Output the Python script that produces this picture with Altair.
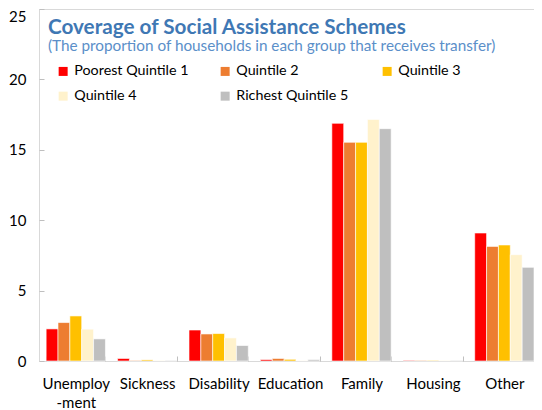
import altair as alt
import pandas as pd

categories = ["Unemployment", "Sickness", "Disability", "Education", "Family", "Housing", "Other"]
series = ["Poorest Quintile 1", "Quintile 2", "Quintile 3", "Quintile 4", "Richest Quintile 5"]
colors = ["#FF0000", "#ED7D31", "#FFC000", "#FFF2CC", "#BFBFBF"]

q1 = [2.28, 0.18, 2.20, 0.10, 16.88, 0.04, 9.09]
q2 = [2.73, 0.04, 1.92, 0.18, 15.53, 0.04, 8.14]
q3 = [3.20, 0.08, 1.95, 0.12, 15.53, 0.04, 8.24]
q4 = [2.26, 0.04, 1.64, 0.03, 17.16, 0.04, 7.55]
q5 = [1.57, 0.04, 1.10, 0.10, 16.50, 0.04, 6.65]

y_ticks = [0, 5, 10, 15, 20, 25]

rows = []
for s, vals in zip(series, [q1, q2, q3, q4, q5]):
    for c, v in zip(categories, vals):
        rows.append({"category": c, "series": s, "value": v})
df = pd.DataFrame(rows)

FONT = "Lato"

bars = alt.Chart(df).mark_bar(stroke="white", strokeWidth=0.6).encode(
    x=alt.X(
        "category:N",
        sort=categories,
        scale=alt.Scale(paddingInner=0.17, paddingOuter=0.05, align=1),
        axis=alt.Axis(
            title=None,
            labelAngle=0,
            tickBand="extent",
            domain=False,
            offset=-5,
            tickSize=5,
            tickColor="#BFBFBF",
            labelPadding=15,
            labelFontSize=15,
            labelColor="#000000",
            labelFont=FONT,
            labelLineHeight=19,
            labelExpr="datum.value == 'Unemployment' ? ['Unemploy', '-ment'] : datum.label",
        ),
    ),
    xOffset=alt.XOffset("series:N", sort=series),
    y=alt.Y(
        "value:Q",
        scale=alt.Scale(domain=[0, 25], nice=False),
        axis=alt.Axis(
            title=None,
            values=y_ticks,
            grid=False,
            domain=False,
            offset=-5,
            tickSize=5,
            tickColor="#BFBFBF",
            labelPadding=13,
            labelFontSize=15,
            labelColor="#000000",
            labelFont=FONT,
            labelOffset=alt.condition("datum.value == 25", alt.value(7), alt.value(0)),
        ),
    ),
    color=alt.Color(
        "series:N",
        sort=series,
        scale=alt.Scale(domain=series, range=colors),
        legend=alt.Legend(
            title=None,
            orient="none",
            direction="horizontal",
            legendX=17,
            legendY=55,
            columns=3,
            gridAlign="all",
            columnPadding=29,
            rowPadding=10,
            symbolType="square",
            symbolSize=81,
            symbolStrokeWidth=0,
            labelFontSize=14.3,
            labelFont=FONT,
            labelColor="#000000",
            labelOffset=4,
        ),
    ),
)

chart = bars.properties(
    width=495,
    height=352,
    autosize=alt.AutoSizeParams(type="none"),
    padding={"left": 31, "top": 1, "right": 0, "bottom": 49},
    title=alt.TitleParams(
        text="Coverage of Social Assistance Schemes",
        subtitle="(The proportion of households in each group that receives transfer)",
        anchor="start",
        frame="group",
        orient="top",
        offset=-47,
        dx=9,
        font=FONT,
        fontSize=20.7,
        fontWeight="bold",
        color="#3F78B4",
        subtitleFont=FONT,
        subtitleFontSize=15.3,
        subtitleColor="#5B8FC9",
        subtitlePadding=1,
    ),
).configure_view(stroke="#D9D9D9", strokeWidth=1)

chart.save("out.html", embed_options={"renderer": "svg", "actions": False})
